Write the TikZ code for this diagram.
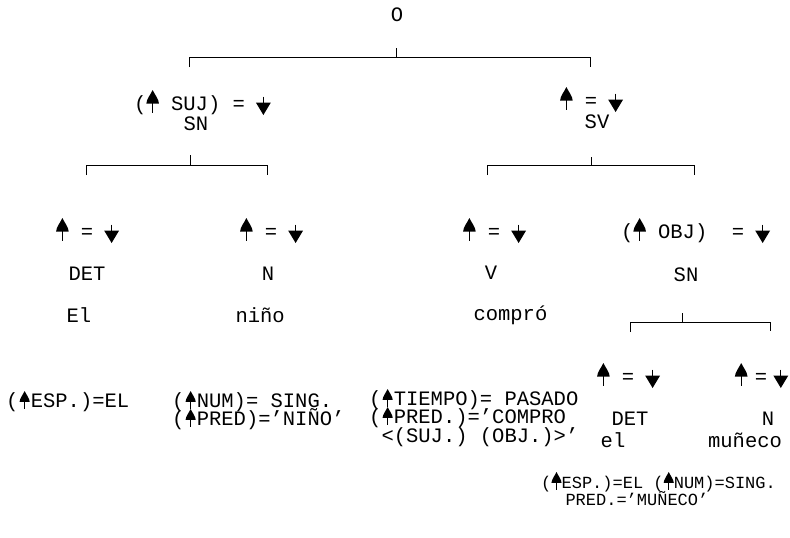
\documentclass[tikz,border=0pt]{standalone}
\usepackage{fontspec}
\newfontfamily\mono{Liberation Mono}
\newcommand\UA[1][1]{\tikz[baseline=0pt,x=#1pt,y=#1pt,line width=0.9pt]{\useasboundingbox (-0.3em,0) rectangle (0.3em,1pt);
  \fill (0,20) .. controls (1.5,16.5) and (6.3,10.5) .. (6.3,6.5) -- (-6.3,6.5) .. controls (-6.3,10.5) and (-1.5,16.5) .. (0,20) -- cycle;
  \draw (0,7) -- (0,-2.5);}}
\newcommand\DA[1][1]{\tikz[baseline=0pt,x=#1pt,y=#1pt,line width=0.9pt]{\useasboundingbox (-0.3em,0) rectangle (0.3em,1pt);
  \draw (0,13.5) -- (0,7);
  \fill (-7.5,7.5) -- (7.5,7.5) -- (0,-5) -- cycle;}}
\begin{document}
\begin{tikzpicture}[x=1pt,y=-1pt,line width=1pt,
  lbl/.style={font=\mono\fontsize{20.5}{22}\selectfont, inner sep=0pt},
  lw/.style={lbl, anchor=base west},
  lc/.style={lbl, anchor=base},
  sm/.style={font=\mono\fontsize{17}{18}\selectfont, inner sep=0pt, anchor=base west}]
\fill[white] (0,0) rectangle (790,538);
\useasboundingbox (0,0) rectangle (790,538);
% level 0
\node[lc] (O) at (397,21) {O};
% level 1
\node[lw] (fsuj) at (134,110) {(\UA{} SUJ) = \DA};
\node[lc] (sn1) at (196,130) {SN};
\node[lc] (fsv) at (591,107) {\UA{} = \DA};
\node[lc] (sv) at (597,128) {SV};
% level 2
\node[lc] (f1) at (87,238) {\UA{} = \DA};
\node[lc] (f2) at (271,238) {\UA{} = \DA};
\node[lc] (f3) at (494,238) {\UA{} = \DA};
\node[lw] (f4) at (621,238) {(\UA{} OBJ)~~= \DA};
\node[lc] (det1) at (87,280) {DET};
\node[lc] (n1) at (268,280) {N};
\node[lc] (v) at (491,279) {V};
\node[lc] (sn2) at (686,281) {SN};
\node[lw] (el1) at (66,322) {El};
\node[lw] (nino) at (235,322) {niño};
\node[lw] (compro) at (473,320) {compró};
% level 3
\node[lc] (f5) at (628,383) {\UA{} = \DA};
\node[lc] (f6) at (761,383) {\UA{}\hspace{7.5pt}=\hspace{7.5pt}\DA};
\node[lc] (det2) at (630,425) {DET};
\node[lc] (n2) at (768,425) {N};
\node[lc] (el2) at (613,447) {el};
\node[lc] (muneco) at (745,447) {muñeco};
% feature equations
\node[lw] (e1) at (6,407) {(\UA[0.8]{}ESP.)=EL};
\node[lw] (e2) at (172,407) {(\UA[0.8]{}NUM)= SING.};
\node[lw] (e3) at (172,425) {(\UA[0.8]{}PRED)=’NIÑO’};
\node[lw] (e4) at (369,405) {(\UA[0.8]{}TIEMPO)=~PASADO};
\node[lw] (e5) at (369,423) {(\UA[0.8]{}PRED.)=’COMPRO};
\node[lw] (e6) at (381,442) {<(SUJ.) (OBJ.)>’};
\node[sm] (e7) at (541,488) {(\UA[0.8]{}ESP.)=EL (\UA[0.8]{}NUM)=SING.};
\node[sm] (e8) at (565,505) {PRED.=’MUÑECO’};
% brackets
\coordinate (t0) at (396,48);  \coordinate (b0) at (0,57);
\coordinate (l0) at (189,67);  \coordinate (r0) at (590,67);
\coordinate (t1) at (190,155); \coordinate (b1) at (0,165);
\coordinate (l1) at (86,175);  \coordinate (r1) at (267,175);
\coordinate (t2) at (591,157); \coordinate (b2) at (0,165);
\coordinate (l2) at (487,175); \coordinate (r2) at (694,175);
\coordinate (t3) at (682,313); \coordinate (b3) at (0,322);
\coordinate (l3) at (630,332); \coordinate (r3) at (770,331);
\foreach \i in {0,1,2,3}{
  \draw (l\i) -- (l\i |- b\i) -- (r\i |- b\i) -- (r\i);
  \draw (t\i) -- (t\i |- b\i);
}
\end{tikzpicture}
\end{document}
